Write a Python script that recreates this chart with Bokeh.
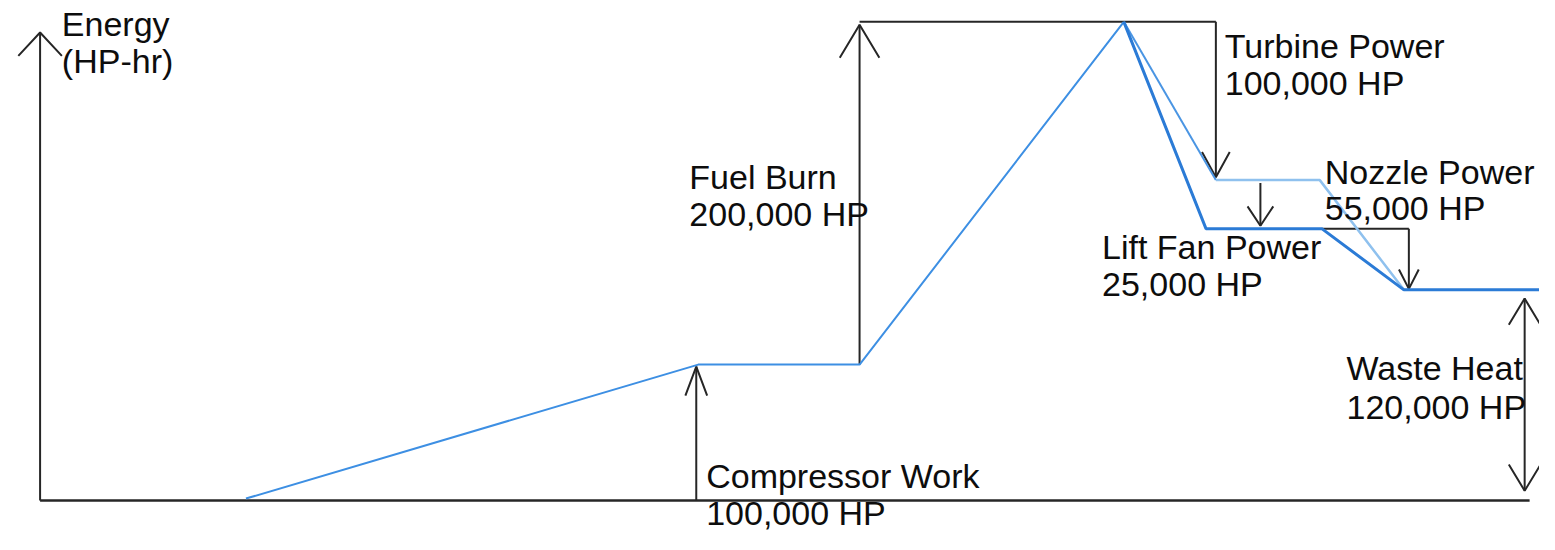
from bokeh.plotting import figure
from bokeh.models import Range1d
from bokeh.core.properties import value
from bokeh.embed import file_html
from bokeh.resources import INLINE

# ---- Diagram data (x = station along the engine, y = energy level, diagram units) ----
# compression + combustion path
main_x = [248, 705, 868, 1135]
main_y = [2, 140, 140, 493]
# turbine -> nozzle path (thin)
turb_x = [1135, 1228, 1333, 1418]
turb_y = [493, 330, 330, 217]
# turbine -> lift fan -> nozzle path (thick)
fan_x = [1135, 1218, 1335, 1418, 1555]
fan_y = [493, 280, 280, 217, 217]

labels = ["Compressor Work", "Fuel Burn", "Turbine Power",
          "Lift Fan Power", "Nozzle Power", "Waste Heat"]
hp_values = [100000, 200000, 100000, 25000, 55000, 120000]
axis_title = ["Energy", "(HP-hr)"]

# label anchor (left, baseline of first line) and line gap, in diagram units
label_pos = [(713, 12), (696, 320), (1237, 455), (1113, 248), (1338, 325), (1360, 123)]
label_gap = [38, 38, 38, 38, 37, 40]
TEXT_SHIFT = 13  # compensates the renderer's baseline placement

W, H = 1539, 534
p = figure(width=W, height=H, output_backend="svg", toolbar_location=None,
           x_range=Range1d(0, 1555), y_range=Range1d(515 - 550, 515),
           min_border=0, outline_line_color=None, background_fill_color="white")
p.xaxis.visible = False
p.yaxis.visible = False
p.xgrid.visible = False
p.ygrid.visible = False

BLACK = "#262626"

def arrow(x, y0, y1, hw, ln, both=False):
    xs = [[x, x]]
    ys = [[y0, y1]]
    d = 1 if y1 > y0 else -1
    xs.append([x - hw, x, x + hw]); ys.append([y1 - d * ln, y1, y1 - d * ln])
    if both:
        xs.append([x - hw, x, x + hw]); ys.append([y0 + d * ln, y0, y0 + d * ln])
    p.multi_line(xs, ys, line_color=BLACK, line_width=2)

# axes
p.line([40, 1545], [0, 0], line_color=BLACK, line_width=2.5)
arrow(40, 0, 482, 22, 24)
# annotation arrows
arrow(703, 0, 138, 11, 30)
arrow(868, 140, 490, 20, 34)
p.line([868, 1228], [493, 493], line_color=BLACK, line_width=2)
arrow(1228, 493, 333, 14, 26)
arrow(1273, 327, 283, 13, 20)
p.line([1335, 1423], [280, 280], line_color=BLACK, line_width=2)
arrow(1423, 280, 218, 10, 20)
arrow(1540, 208, 10, 16, 27, both=True)

# energy paths
p.line(main_x, main_y, line_color="#3d8fe3", line_width=2)
p.line(turb_x[:2], turb_y[:2], line_color="#4a95e3", line_width=2)
p.line(turb_x[1:], turb_y[1:], line_color="#8fc1ee", line_width=2.5)
p.line(fan_x, fan_y, line_color="#2b7bd6", line_width=3)

# texts
font = value("Liberation Sans")
tx, ty, tt = [], [], []
for (x, y), g, name, v in zip(label_pos, label_gap, labels, hp_values):
    tx += [x, x]; ty += [y + TEXT_SHIFT, y - g + TEXT_SHIFT]; tt += [name, f"{v:,} HP"]
tx += [62, 62]; ty += [478 + TEXT_SHIFT, 440 + TEXT_SHIFT]; tt += axis_title
p.text(tx, ty, text=tt, text_font=font, text_font_size="34px",
       text_color="#0d0d0d", text_baseline="alphabetic", text_align="left")

open("out.html", "w").write(file_html(p, INLINE))
